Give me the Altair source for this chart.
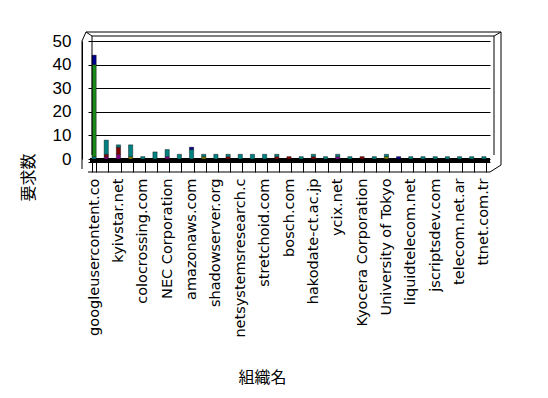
import json
import altair as alt
import pandas as pd

# ---- data ----
orgs = [
    "googleusercontent.co", "ovh.net", "kyivstar.net", "censys.io",
    "colocrossing.com", "digitalocean.com", "NEC Corporation", "linode.com",
    "amazonaws.com", "vultr.com", "shadowserver.org", "hetzner.de",
    "netsystemsresearch.c", "chinanet.cn", "stretchoid.com", "binaryedge.ninja",
    "bosch.com", "ocn.ne.jp", "hakodate-ct.ac.jp", "so-net.ne.jp",
    "ycix.net", "plala.or.jp", "Kyocera Corporation", "KDDI Corporation",
    "University of Tokyo", "sakura.ad.jp", "liquidtelecom.net", "rima-tde.net",
    "jscriptsdev.com", "vivo.com.br", "telecom.net.ar", "hinet.net",
    "ttnet.com.tr",
]
series_names = ["系列1", "系列2", "系列3", "系列4", "系列5", "系列6"]
series_colors = ["#800080", "#800000", "#808000", "#008080", "#1a8a1a", "#000090"]

s_purple = [0, 1, 2, 0, 0, 0, 1, 0, 0, 0, 0, 0, 0, 0, 0, 0, 0, 0, 0, 0, 1, 0, 0, 0, 0, 0, 0, 0, 0, 0, 0, 0, 0]
s_maroon = [0, 1, 3, 0, 0, 0, 0, 0, 0, 0, 0, 1, 0, 0, 0, 1, 1, 0, 1, 0, 0, 0, 1, 0, 0, 0, 0, 0, 0, 0, 0, 0, 0]
s_olive  = [0, 0, 0, 1, 0, 0, 0, 0, 0, 1, 0, 0, 0, 0, 0, 0, 0, 0, 0, 0, 0, 0, 0, 0, 1, 0, 0, 0, 0, 0, 0, 0, 0]
s_teal   = [1, 6, 1, 5, 1, 3, 3, 2, 4, 1, 2, 1, 2, 2, 2, 1, 0, 1, 1, 1, 1, 1, 0, 1, 1, 0, 1, 1, 1, 1, 1, 1, 1]
s_green  = [39, 0, 0, 0, 0, 0, 0, 0, 0, 0, 0, 0, 0, 0, 0, 0, 0, 0, 0, 0, 0, 0, 0, 0, 0, 0, 0, 0, 0, 0, 0, 0, 0]
s_navy   = [4, 0, 0, 0, 0, 0, 0, 0, 1, 0, 0, 0, 0, 0, 0, 0, 0, 0, 0, 0, 0, 0, 0, 0, 0, 1, 0, 0, 0, 0, 0, 0, 0]
y_ticks = [0, 10, 20, 30, 40, 50]

all_series = [s_purple, s_maroon, s_olive, s_teal, s_green, s_navy]
rows = []
for k, (name, vals) in enumerate(zip(series_names, all_series)):
    for org, v in zip(orgs, vals):
        if v > 0:
            rows.append({"org": org, "series": name, "value": v, "rank": k})
df = pd.DataFrame(rows)

labelled = orgs[0::2]
label_expr = "indexof(" + json.dumps(labelled) + ", datum.value) >= 0 ? datum.label : ''"

W, H = 402, 118
FONT = "DejaVu Sans"
YFONT = "Liberation Sans"
JFONT = "Noto Sans CJK JP"

bars = alt.Chart(df).mark_bar(stroke="black", strokeWidth=0.4).encode(
    x=alt.X(
        "org:N", sort=orgs,
        scale=alt.Scale(domain=orgs, paddingInner=0.65, paddingOuter=0.325),
        axis=alt.Axis(
            title="組織名", titleFont=JFONT, titleFontSize=16, titleFontWeight="normal",
            titleColor="black", titleX=174, titleY=215, titleAlign="center",
            titleBaseline="middle", titleAngle=0,
            labelExpr=label_expr, labelAngle=270, labelAlign="right",
            labelBaseline="middle", labelFont=FONT, labelFontSize=14.5,
            labelColor="black", labelPadding=6, labelOverlap=False, labelLimit=300,
            tickSize=10, tickBand="extent", tickColor="black", tickWidth=1,
            domainColor="black", domainWidth=1, offset=3,
        ),
    ),
    y=alt.Y(
        "sum(value):Q",
        scale=alt.Scale(domain=[0, 50], nice=False),
        axis=alt.Axis(
            title="要求数", titleFont=JFONT, titleFontSize=16, titleFontWeight="normal",
            titleColor="black", titleX=-54, titleY=136, titleAngle=270,
            titleAlign="center", titleBaseline="middle",
            values=y_ticks, labelFont=YFONT, labelFontSize=17, labelColor="black",
            labelPadding=11, ticks=False, grid=True, gridColor="black", gridWidth=1,
            domainColor="black", domainWidth=1, offset=6,
        ),
    ),
    color=alt.Color("series:N", scale=alt.Scale(domain=series_names, range=series_colors), legend=None),
    order=alt.Order("rank:Q", sort="ascending"),
)

one = pd.DataFrame({"a": [0]})

def seg(x, x2, y, y2):
    return alt.Chart(one).mark_rule(color="black", strokeWidth=1).encode(
        x=alt.value(x), x2=alt.value(x2), y=alt.value(y), y2=alt.value(y2))

floor = alt.Chart(one).mark_rect(color="black").encode(
    x=alt.value(2), x2=alt.value(W), y=alt.value(H - 1), y2=alt.value(H + 3))

frame = [
    seg(4, W + 4, -5, -5),            # back wall top (inner)
    seg(-2, W + 11, -9, -9),          # back wall top (outer)
    seg(W + 4, W + 4, -5, H - 4),     # back wall right (inner)
    seg(W + 11, W + 11, -9, H + 6),   # back wall right (outer)
    seg(W + 4, W + 11, -5, -9),       # top-right corner
    seg(4, 4, -5, H - 4),             # back-left vertical
    seg(-6, -2, 0, -9),               # top-left corner
    seg(-2, 4, -9, -5),
    seg(0, W, H + 13, H + 13),        # bottom of category box
    seg(W, W + 11, H + 13, H + 6),    # bottom-right diagonal
    seg(-6, -6, 0, H + 10),           # left front edge
]

chart = alt.layer(floor, bars, *frame).properties(
    width=W, height=H,
    autosize=alt.AutoSizeParams(type="none"),
    padding={"left": 80, "top": 33, "right": 50, "bottom": 228},
    background="white",
).configure_view(stroke=None)

chart.save("out.html", embed_options={"renderer": "svg", "actions": False})
